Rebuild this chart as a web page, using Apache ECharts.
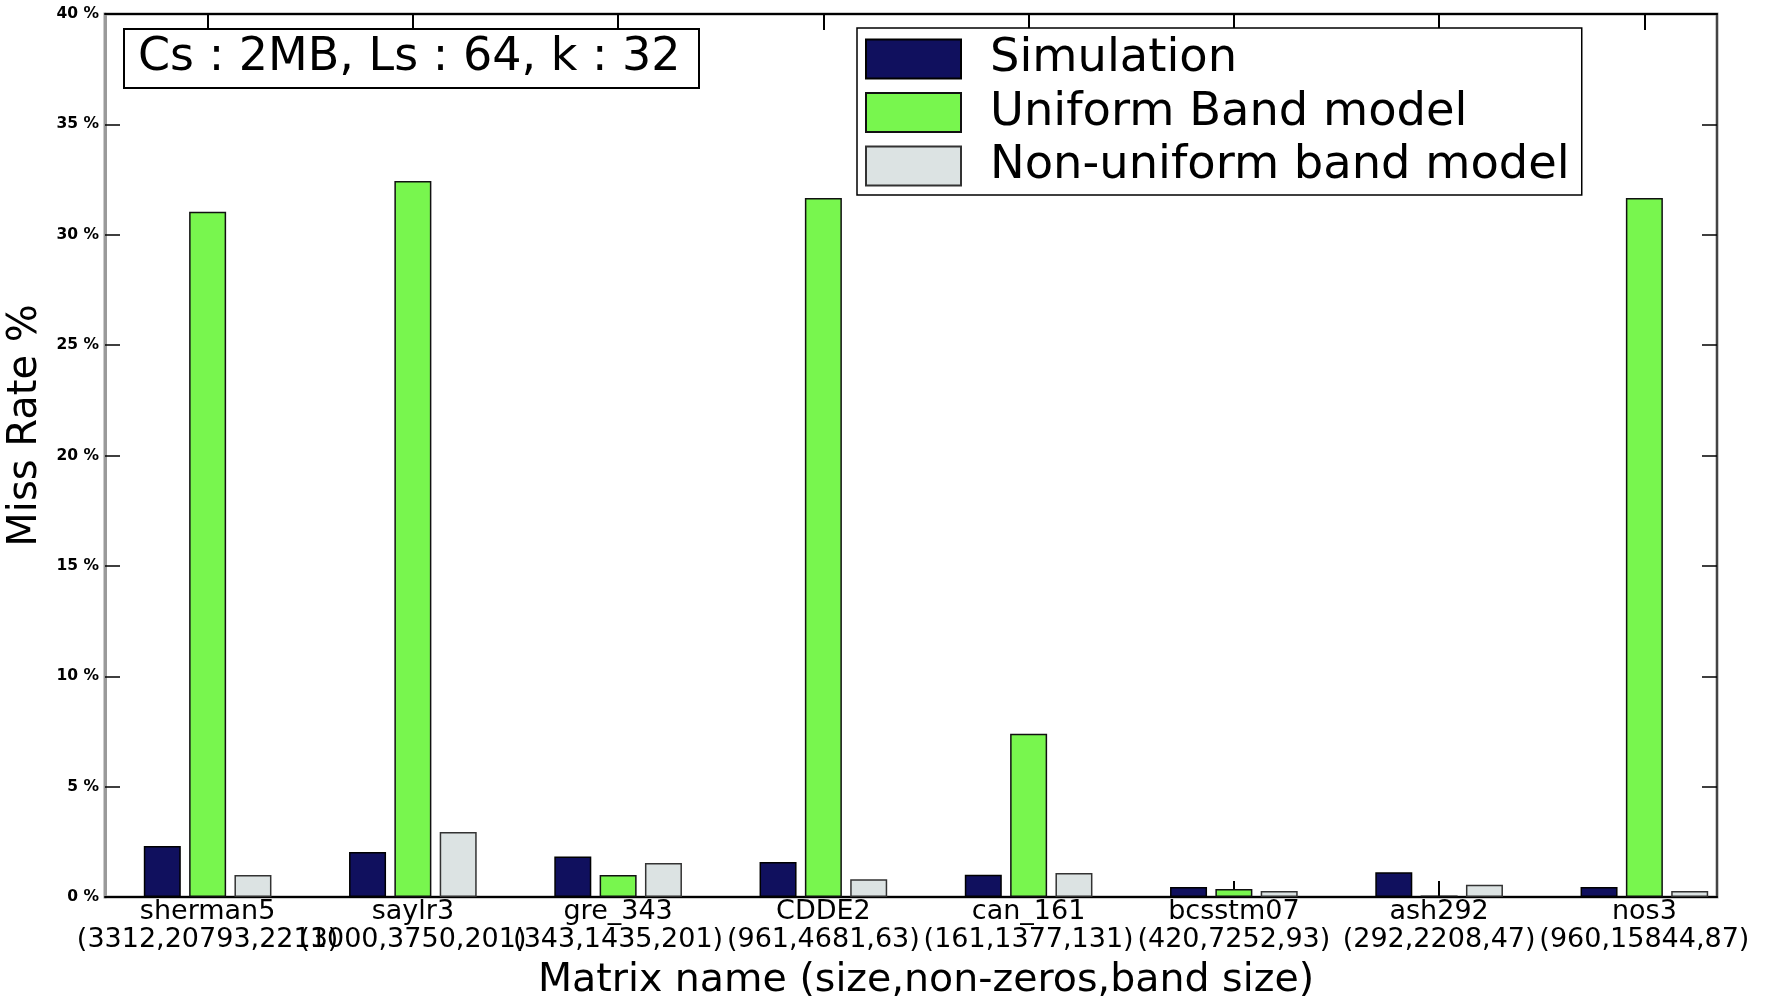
<!DOCTYPE html>
<html>
<head>
<meta charset="utf-8">
<script src="https://cdn.jsdelivr.net/npm/echarts@6/dist/echarts.min.js"></script>
<style>
html,body{margin:0;padding:0;background:#fff;}
#chart{width:1771px;height:999px;}
</style>
</head>
<body>
<div id="chart"></div>
<script>
const categories = ['sherman5','saylr3','gre_343','CDDE2','can_161','bcsstm07','ash292','nos3'];
const matrixParams = ['(3312,20793,2213)','(1000,3750,201)','(343,1435,201)','(961,4681,63)','(161,1377,131)','(420,7252,93)','(292,2208,47)','(960,15844,87)'];
const simulation = [2.31, 2.04, 1.84, 1.58, 1.01, 0.45, 1.12, 0.45];
const uniformBand = [31.04, 32.43, 1.00, 31.67, 7.39, 0.36, 0.07, 31.67];
const nonUniformBand = [1.00, 2.94, 1.54, 0.80, 1.09, 0.27, 0.56, 0.27];
const yTicks = {min: 0, max: 40, interval: 5};
const seriesNames = ['Simulation', 'Uniform Band model', 'Non-uniform band model'];
const annotation = 'Cs : 2MB, Ls : 64, k : 32';

const labels = categories.map((c, i) => c + '\n' + matrixParams[i]);
const FONT = 'DejaVu Sans';

const chart = echarts.init(document.getElementById('chart'));
const barCommon = {type: 'bar', barWidth: 37, barGap: '22.5%', xAxisIndex: 0, yAxisIndex: 0};
chart.setOption({
  animation: false,
  backgroundColor: '#fff',
  title: {
    text: annotation,
    left: 124, top: 29,
    padding: [4, 19, 4, 14],
    borderColor: '#000', borderWidth: 2,
    textStyle: {fontFamily: FONT, fontSize: 46, fontWeight: 'normal', color: '#000', lineHeight: 51}
  },
  legend: {
    orient: 'vertical',
    left: 857, top: 28,
    padding: [8, 12, 6, 8],
    icon: 'rect',
    itemWidth: 95, itemHeight: 39, itemGap: 7.5,
    borderColor: '#000', borderWidth: 1.5,
    backgroundColor: '#fff',
    textStyle: {fontFamily: FONT, fontSize: 46.4, color: '#000', padding: [0, 0, 0, 24]},
    data: seriesNames
  },
  grid: [
    {left: 105, right: 24, top: 14, bottom: 102, containLabel: false, outerBoundsMode: 'none'},
    {left: 105, right: 54, top: 14, bottom: 102, containLabel: false, outerBoundsMode: 'none',
     show: true, borderColor: '#9a9a9a', borderWidth: 3, backgroundColor: 'transparent'}
  ],
  xAxis: [{
    gridIndex: 0, type: 'category', data: labels, position: 'bottom',
    name: 'Matrix name (size,non-zeros,band size)', nameLocation: 'middle', nameGap: 64,
    nameTextStyle: {fontFamily: FONT, fontSize: 39.5, color: '#000'},
    axisLine: {show: false, onZero: false},
    axisTick: {show: true, inside: true, alignWithLabel: true, length: 16, lineStyle: {color: '#000', width: 2}},
    axisLabel: {interval: 0, margin: 1, fontFamily: FONT, fontSize: 27, lineHeight: 28, color: '#000'},
    splitLine: {show: false}
  }, {
    gridIndex: 0, type: 'category', data: labels, position: 'top',
    axisLine: {show: false, onZero: false},
    axisTick: {show: true, inside: true, alignWithLabel: true, length: 16, lineStyle: {color: '#000', width: 2}},
    axisLabel: {show: false},
    splitLine: {show: false}
  }, {
    gridIndex: 1, type: 'value', min: 0, max: 1, position: 'bottom',
    axisLine: {show: true, onZero: false, lineStyle: {color: '#000', width: 2}},
    axisTick: {show: false}, axisLabel: {show: false}, splitLine: {show: false}
  }, {
    gridIndex: 1, type: 'value', min: 0, max: 1, position: 'top',
    axisLine: {show: true, onZero: false, lineStyle: {color: '#000', width: 2}},
    axisTick: {show: false}, axisLabel: {show: false}, splitLine: {show: false}
  }],
  yAxis: [{
    gridIndex: 0, type: 'value', min: yTicks.min, max: yTicks.max, interval: yTicks.interval, position: 'left',
    name: 'Miss Rate %', nameLocation: 'middle', nameGap: 29,
    nameTextStyle: {fontFamily: FONT, fontSize: 40, color: '#000', padding: [0, 0, 0, 60]},
    axisLine: {show: true, onZero: false, lineStyle: {color: '#9a9a9a', width: 3}},
    axisTick: {show: true, inside: true, length: 15, lineStyle: {color: '#000', width: 1.5}},
    axisLabel: {formatter: '{value} %', margin: 6, fontFamily: FONT, fontSize: 15.5, fontWeight: 'bold', color: '#000'},
    splitLine: {show: false}
  }, {
    gridIndex: 1, type: 'value', min: yTicks.min, max: yTicks.max, interval: yTicks.interval, position: 'right',
    axisLine: {show: true, onZero: false, lineStyle: {color: '#444', width: 2}},
    axisTick: {show: true, inside: true, length: 15, lineStyle: {color: '#000', width: 1.5}},
    axisLabel: {show: false},
    splitLine: {show: false}
  }],
  series: [
    Object.assign({}, barCommon, {name: seriesNames[0], data: simulation,
      itemStyle: {color: '#10105e', borderColor: '#000', borderWidth: 1.5}}),
    Object.assign({}, barCommon, {name: seriesNames[1], data: uniformBand,
      itemStyle: {color: '#78f64e', borderColor: '#111', borderWidth: 1.5}}),
    Object.assign({}, barCommon, {name: seriesNames[2], data: nonUniformBand,
      itemStyle: {color: '#dce3e3', borderColor: '#333', borderWidth: 1.5}})
  ]
});
</script>
</body>
</html>
